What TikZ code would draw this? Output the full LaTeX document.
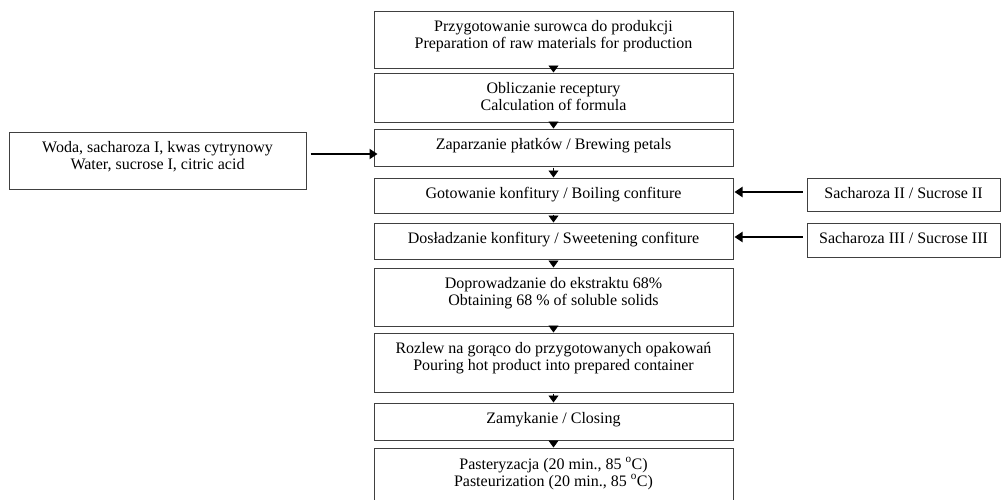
\documentclass[tikz,border=0pt]{standalone}
\usepackage{fontspec}
\setmainfont{Liberation Serif}
\usetikzlibrary{arrows.meta}

\tikzset{
  stepbox/.style={draw=black!75, line width=1pt, minimum width=359pt},
  sidebox/.style={draw=black!75, line width=1pt},
  boxtext/.style={anchor=north, align=center, inner sep=0pt, yshift=-10pt},
  flowtip/.style={-{Triangle[width=10pt,length=7pt]}, line width=0.6pt},
  sidearrow/.style={-{Triangle[width=10pt,length=8pt]}, line width=2.6pt}
}

\begin{document}
\begin{tikzpicture}[x=1pt,y=-1pt,font=\fontsize{16}{17}\selectfont]
\path[use as bounding box] (0,0) rectangle (1002,499);
% main column
\node[stepbox, minimum height=57pt, label={[boxtext]north:Przygotowanie surowca do produkcji\\Preparation of raw materials for production}] (prep) at (553.5,39.5) {};
\node[stepbox, minimum height=49pt, label={[boxtext]north:Obliczanie receptury\\Calculation of formula}] (calc) at (553.5,97.5) {};
\node[stepbox, minimum height=37pt, label={[boxtext]north:Zaparzanie płatków / Brewing petals}] (brew) at (553.5,147.5) {};
\node[stepbox, minimum height=35pt, label={[boxtext]north:Gotowanie konfitury / Boiling confiture}] (boil) at (553.5,195.5) {};
\node[stepbox, minimum height=36pt, label={[boxtext]north:Dosładzanie konfitury / Sweetening confiture}] (sweet) at (553.5,241) {};
\node[stepbox, minimum height=58pt, label={[boxtext]north:Doprowadzanie do ekstraktu 68\%\\Obtaining 68 \% of soluble solids}] (extr) at (553.5,297) {};
\node[stepbox, minimum height=59pt, label={[boxtext]north:Rozlew na gorąco do przygotowanych opakowań\\Pouring hot product into prepared container}] (pour) at (553.5,362.5) {};
\node[stepbox, minimum height=37pt, label={[boxtext]north:Zamykanie / Closing}] (closing) at (553.5,421.5) {};
\node[stepbox, minimum height=56pt, label={[boxtext]north:Pasteryzacja (20 min., 85 \textsuperscript{o}C)\\Pasteurization (20 min., 85 \textsuperscript{o}C)}] (past) at (553.5,476) {};
% added ingredients
\node[sidebox, minimum width=297pt, minimum height=57pt, label={[boxtext]north:Woda, sacharoza I, kwas cytrynowy\\Water, sucrose I, citric acid}] (water) at (157.5,160.5) {};
\node[sidebox, minimum width=193pt, minimum height=33pt, label={[boxtext]north:Sacharoza II / Sucrose II}] (sucII) at (903.5,194.5) {};
\node[sidebox, minimum width=193pt, minimum height=34pt, label={[boxtext]north:Sacharoza III / Sucrose III}] (sucIII) at (903.5,240) {};

\foreach \a/\b in {prep/calc,calc/brew,brew/boil,boil/sweet,sweet/extr,extr/pour,pour/closing,closing/past}
  \draw[flowtip] ([yshift=-1pt]\a.south) -- (\b.north);
\draw[sidearrow] ([shift={(4,-6.5)}]water.east) -- ([shift={(4,-6.5)}]water.east -| brew.west);
\draw[sidearrow] ([shift={(-4,-2.5)}]sucII.west) -- ([shift={(1,-2.5)}]sucII.west -| boil.east);
\draw[sidearrow] ([shift={(-4,-3)}]sucIII.west) -- ([shift={(1,-3)}]sucIII.west -| sweet.east);
\end{tikzpicture}
\end{document}
